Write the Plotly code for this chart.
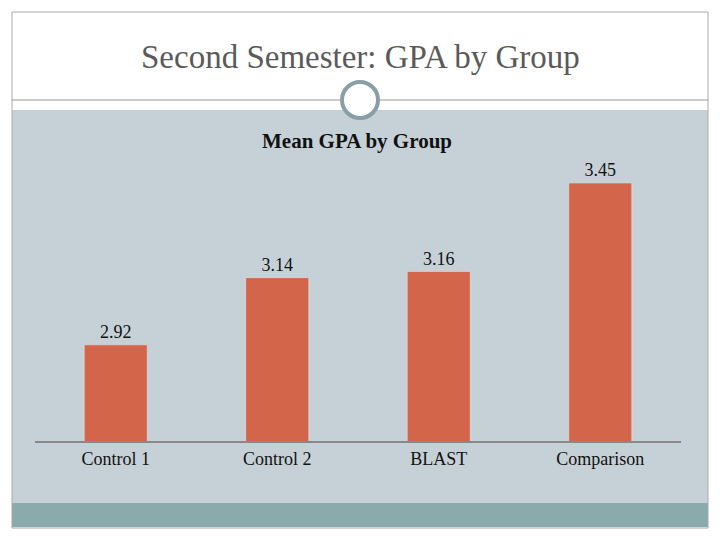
import plotly.graph_objects as go

groups = ["Control 1", "Control 2", "BLAST", "Comparison"]
gpa = [2.92, 3.14, 3.16, 3.45]

# the page body adds an 8px margin, so draw a slightly smaller figure
OFF = 8
W, H = 720 - 2 * OFF, 540 - 2 * OFF


def px(x):
    return (x - OFF) / W


def py(y):
    return 1 - (y - OFF) / H


fig = go.Figure()

fig.add_trace(go.Bar(
    x=groups,
    y=gpa,
    marker=dict(color="#d2654a"),
    width=0.39,
    text=[f"{v:.2f}" for v in gpa],
    textposition="outside",
    textfont=dict(family="Liberation Serif", size=18, color="#111"),
    cliponaxis=False,
))

shapes = [
    # grey-blue slide band
    dict(type="rect", xref="paper", yref="paper", x0=px(12), x1=px(708),
         y0=py(503), y1=py(110), fillcolor="#c6d1d7", line_width=0, layer="below"),
    # teal footer band
    dict(type="rect", xref="paper", yref="paper", x0=px(12), x1=px(708),
         y0=py(527), y1=py(503), fillcolor="#8aabab", line_width=0, layer="below"),
    # outer border
    dict(type="rect", xref="paper", yref="paper", x0=px(12), x1=px(708),
         y0=py(528), y1=py(12), line=dict(color="#a8a8a8", width=1), layer="below"),
    # title rule
    dict(type="line", xref="paper", yref="paper", x0=px(12), x1=px(708),
         y0=py(100), y1=py(100), line=dict(color="#999999", width=1), layer="below"),
    # circle ornament
    dict(type="circle", xref="paper", yref="paper", x0=px(342), x1=px(378),
         y0=py(118), y1=py(82), fillcolor="white",
         line=dict(color="#8a9ea5", width=4), layer="below"),
]

fig.update_layout(
    width=W, height=H,
    margin=dict(l=0, r=0, t=0, b=0),
    paper_bgcolor="white",
    plot_bgcolor="rgba(0,0,0,0)",
    shapes=shapes,
    showlegend=False,
    xaxis=dict(domain=[px(35), px(681)], showline=True, linecolor="#888888", linewidth=2,
               tickfont=dict(family="Liberation Serif", size=18, color="#111"),
               ticks="", showgrid=False),
    yaxis=dict(domain=[py(441), py(183)], range=[2.605, 3.45], visible=False,
               showgrid=False),
    annotations=[
        dict(text="Second Semester: GPA by Group", xref="paper", yref="paper",
             x=px(360), y=py(57), xanchor="center", yanchor="middle", showarrow=False,
             font=dict(family="Liberation Serif", size=33, color="#5a5a5a")),
        dict(text="<b>Mean GPA by Group</b>", xref="paper", yref="paper",
             x=px(357), y=py(141), xanchor="center", yanchor="middle", showarrow=False,
             font=dict(family="Liberation Serif", size=21, color="#111")),
    ],
)

fig.write_html("out.html")
